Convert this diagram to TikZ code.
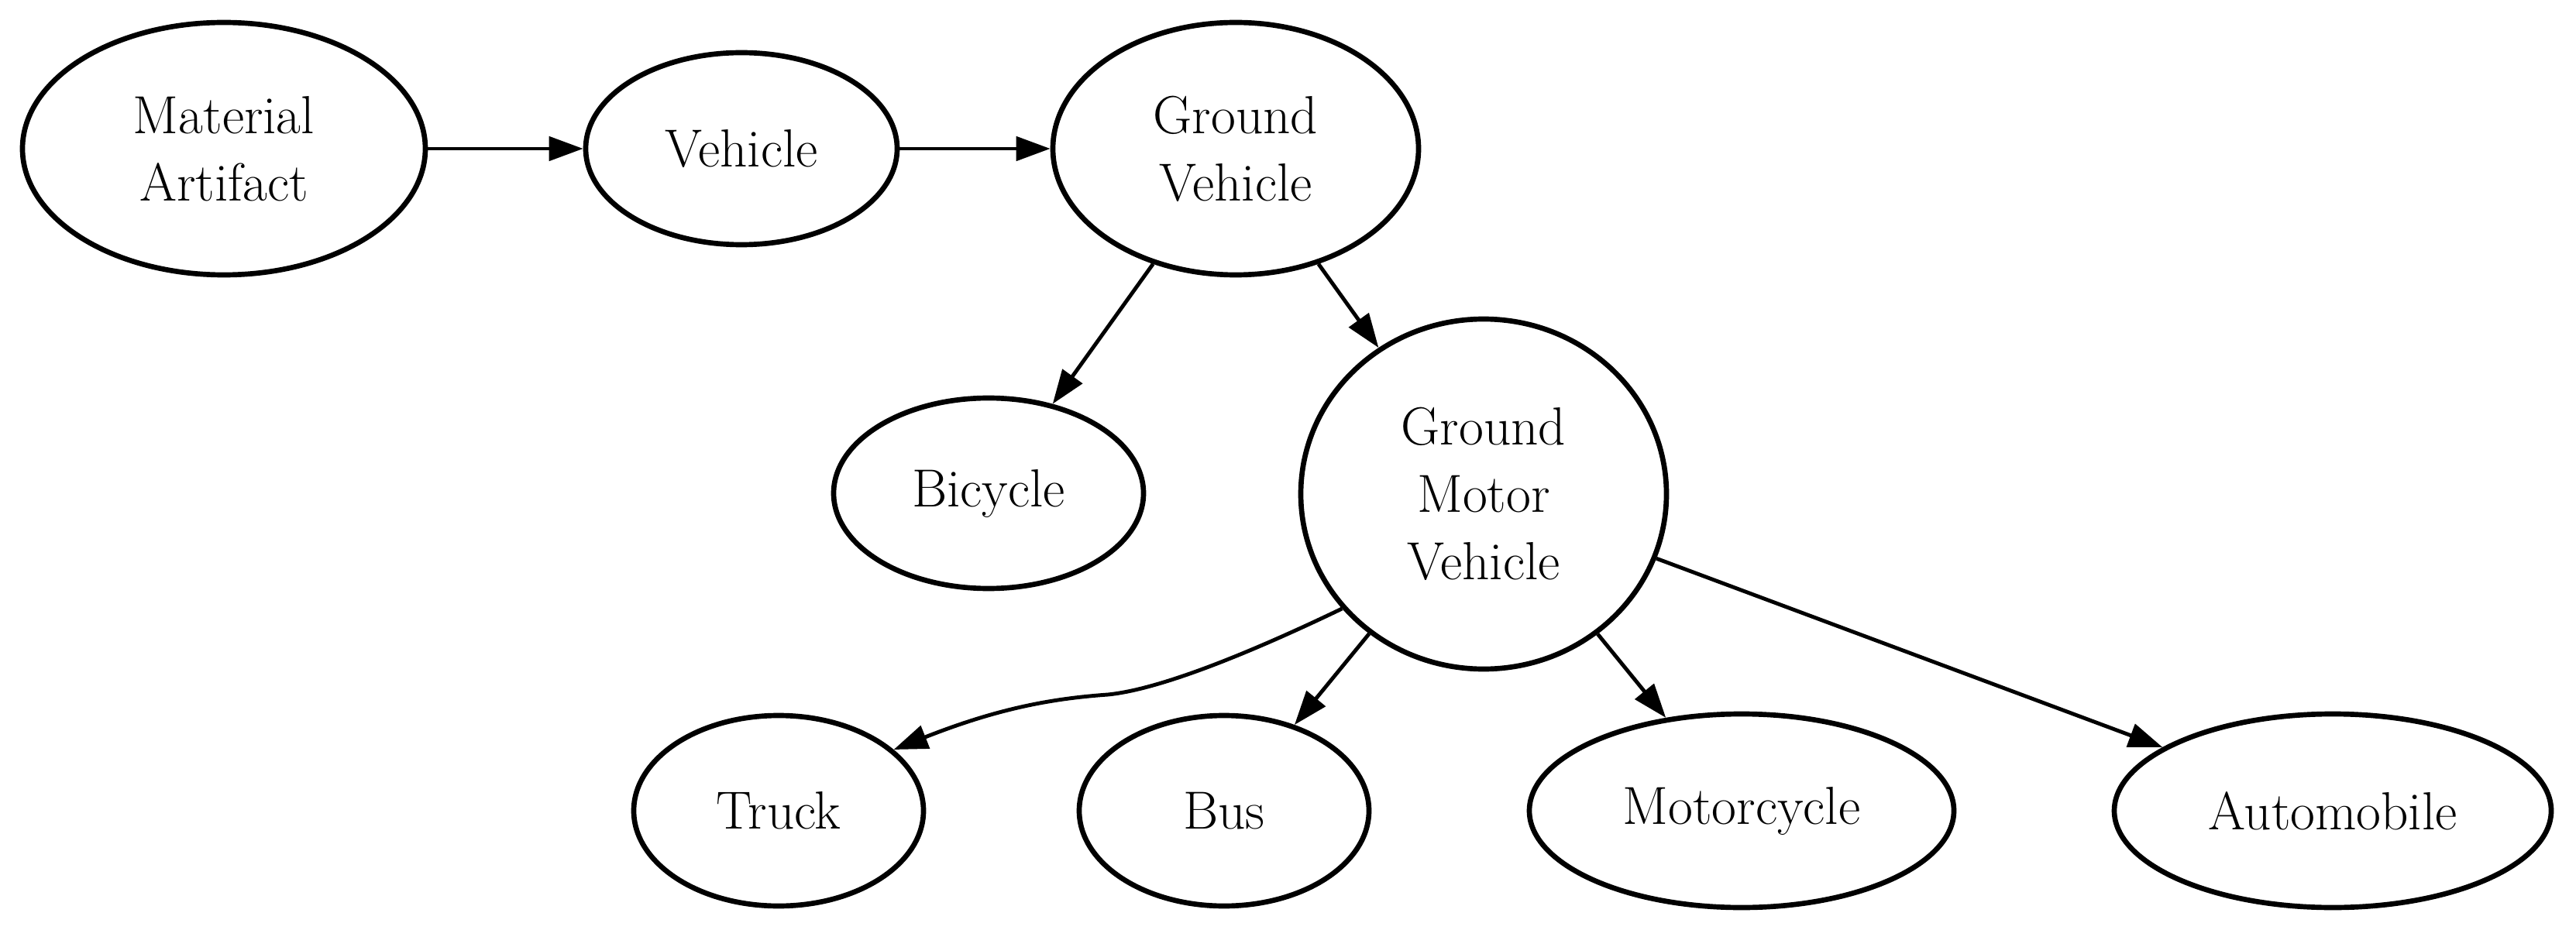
\documentclass[tikz,border=0pt]{standalone}
\usepackage{fontspec}
\usetikzlibrary{arrows.meta, shapes.geometric}

\tikzset{
  klasse/.style={ellipse, draw, line width=1.9pt, inner sep=0pt, align=center,
    font=\fontsize{19.7}{24.7}\selectfont},
  pfeil/.style={line width=1.4pt, -{Triangle[length=0.44cm, width=0.31cm]}}
}

\begin{document}
\begin{tikzpicture}

\useasboundingbox (0,0) rectangle (33.25,12);

% Obere Reihe
\node[klasse, minimum width=5.2cm, minimum height=3.26cm] (matart) at (2.89,10.08) {Material\\Artifact};
\node[klasse, minimum width=4.02cm, minimum height=2.48cm] (veh) at (9.57,10.08) {Vehicle};
\node[klasse, minimum width=4.72cm, minimum height=3.26cm] (gveh) at (15.95,10.08) {Ground\\Vehicle};

% Mittlere Reihe
\node[klasse, minimum width=4.0cm, minimum height=2.46cm] (bike) at (12.76,5.63) {Bicycle};
\node[klasse, minimum width=4.72cm, minimum height=4.52cm] (gmv) at (19.15,5.62) {Ground\\Motor\\Vehicle};

% Untere Reihe
\node[klasse, minimum width=3.74cm, minimum height=2.46cm] (truck) at (10.05,1.53) {Truck};
\node[klasse, minimum width=3.74cm, minimum height=2.46cm] (bus) at (15.80,1.53) {Bus};
\node[klasse, minimum width=5.48cm, minimum height=2.5cm] (moto) at (22.48,1.53) {Motorcycle};
\node[klasse, minimum width=5.64cm, minimum height=2.5cm] (auto) at (30.11,1.53) {Automobile};

% Kanten
\draw[pfeil] (matart) -- (veh);
\draw[pfeil] (veh) -- (gveh);
\draw[pfeil] (gveh) -- (bike);
\draw[pfeil] (gveh) -- (gmv);
\draw[pfeil] (gmv.219) .. controls (16.2,3.6) and (15.0,3.1) .. (14.3,3.03)
  .. controls (13.6,2.98) and (12.9,2.86) .. (truck.28);
\draw[pfeil] (gmv) -- (bus);
\draw[pfeil] (gmv) -- (moto);
\draw[pfeil] (gmv) -- (auto);

\end{tikzpicture}
\end{document}
